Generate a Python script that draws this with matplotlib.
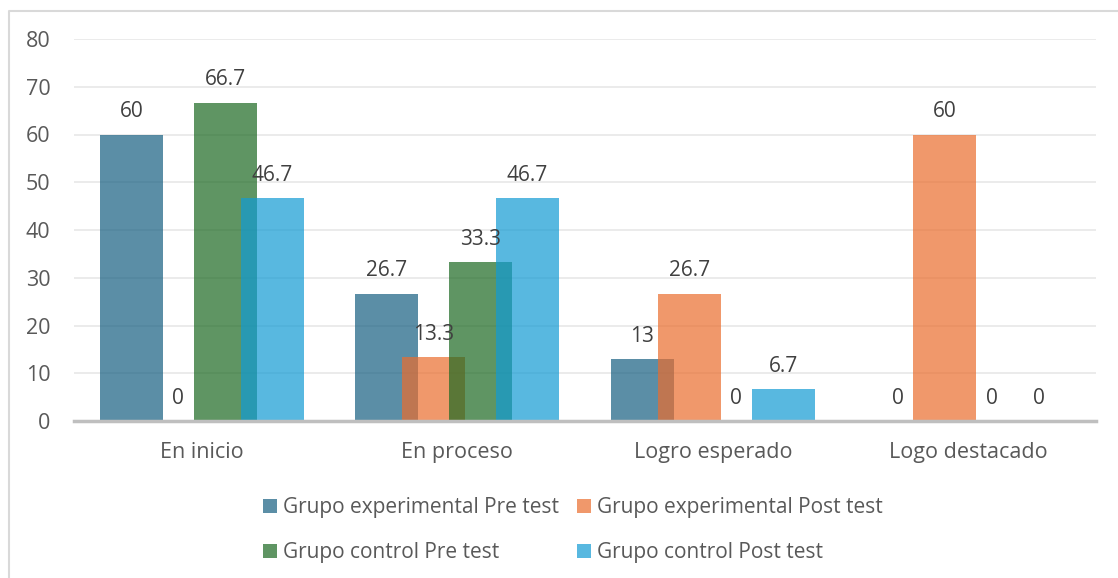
import matplotlib
matplotlib.use("Agg")
import matplotlib.pyplot as plt
from matplotlib.patches import Patch
from matplotlib.lines import Line2D
import numpy as np

plt.rcParams['font.family'] = ['Open Sans', 'DejaVu Sans']

# data
categories = ['En inicio', 'En proceso', 'Logro esperado', 'Logo destacado']
series_names = ['Grupo experimental Pre test', 'Grupo experimental Post test',
                'Grupo control Pre test', 'Grupo control Post test']
exp_pre = [60, 26.7, 13, 0]
exp_post = [0, 13.3, 26.7, 60]
ctrl_pre = [66.7, 33.3, 0, 0]
ctrl_post = [46.7, 46.7, 6.7, 0]
y_ticks = [0, 10, 20, 30, 40, 50, 60, 70, 80]

# bar colours (drawn semi transparent, they overlap like in Excel)
colors = ['#165F80', '#EA6C2D', '#1B6921', '#119BD4']
alpha = 0.7
offsets = [-0.2754, -0.0918, 0.0918, 0.2754]
bar_w = 0.246

fig = plt.figure(figsize=(11.18, 5.78), dpi=100)
ax = fig.add_axes([74/1118, 1-421/578, (1096-74)/1118, (421-39)/578])

x = np.arange(len(categories))
all_series = [exp_pre, exp_post, ctrl_pre, ctrl_post]
for i, vals in enumerate(all_series):
    ax.bar(x + offsets[i], vals, width=bar_w, color=colors[i], alpha=alpha,
           linewidth=0, zorder=2 + i)
for i, vals in enumerate(all_series):
    for xi, v in zip(x, vals):
        ax.annotate(f"{v:g}", xy=(xi + offsets[i], v), xytext=(0, 12.5),
                    textcoords='offset points', ha='center', va='baseline',
                    fontsize=15, color='#404040', zorder=10)

ax.set_xlim(-0.5, 3.5)
ax.set_ylim(0, 80)
ax.set_yticks(y_ticks)
ax.set_xticks(x)
ax.set_xticklabels(categories)
ax.tick_params(axis='both', length=0, labelsize=15.5, labelcolor='#595959')
ax.tick_params(axis='x', pad=15)
ax.tick_params(axis='y', pad=17)
ax.yaxis.grid(True, color='#EBEBEB', linewidth=1.4, zorder=0)
ax.set_axisbelow(True)
for s in ['top', 'right', 'left']:
    ax.spines[s].set_visible(False)
ax.spines['bottom'].set_color('#BFBFBF')
ax.spines['bottom'].set_linewidth(2.5)
ax.spines['bottom'].set_zorder(20)

# legend, filled row by row like the reference (matplotlib fills by column)
handles = [Patch(facecolor=c, alpha=alpha, linewidth=0) for c in colors]
order = [0, 2, 1, 3]
leg = fig.legend([handles[k] for k in order], [series_names[k] for k in order],
                 ncol=2, loc='center',
                 bbox_to_anchor=(573/1118, 1-530/578), frameon=False,
                 fontsize=15, labelcolor='#595959', handlelength=0.66,
                 handleheight=0.66, handletextpad=0.3, columnspacing=0.85,
                 labelspacing=1.15)

# chart border
fig.add_artist(Line2D([8.5/1118, 8.5/1118, 1.0], [0.0, 1-10.5/578, 1-10.5/578],
                      transform=fig.transFigure, color='#D9D9D9', linewidth=1.5))

fig.savefig('out.png', dpi=100)
